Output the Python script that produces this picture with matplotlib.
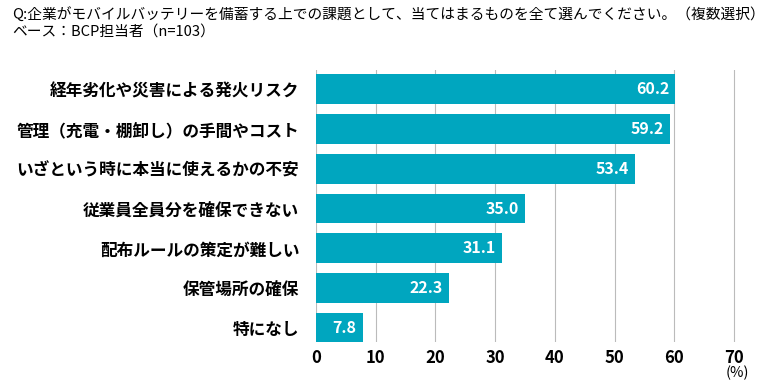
import matplotlib
matplotlib.use("Agg")
import matplotlib.pyplot as plt

plt.rcParams['font.family'] = ['Noto Sans CJK JP', 'DejaVu Sans']

# data
labels = ["経年劣化や災害による発火リスク",
          "管理（充電・棚卸し）の手間やコスト",
          "いざという時に本当に使えるかの不安",
          "従業員全員分を確保できない",
          "配布ルールの策定が難しい",
          "保管場所の確保",
          "特になし"]
values = [60.2, 59.2, 53.4, 35.0, 31.1, 22.3, 7.8]
xticks = [0, 10, 20, 30, 40, 50, 60, 70]

title = "Q:企業がモバイルバッテリーを備蓄する上での課題として、当てはまるものを全て選んでください。（複数選択）\nベース：BCP担当者（n=103）"

bar_color = "#00A6BF"

fig = plt.figure(figsize=(7.79, 3.92), dpi=100)
ax = fig.add_axes([0.4056, 0.128, 0.5405, 0.693])

pos = list(range(len(values)))
bars = ax.barh(pos, values, height=0.75, color=bar_color, zorder=3)

for b, v in zip(bars, values):
    ax.text(v - 1.0, b.get_y() + b.get_height() / 2, f"{v:.1f}",
            ha="right", va="center", color="white", fontsize=11.5,
            fontweight="bold", zorder=4)

ax.set_xlim(0, 70.5)
ax.set_ylim(6.35, -0.48)
ax.set_xticks(xticks)
ax.set_xticklabels([str(t) for t in xticks], fontsize=12, fontweight="bold")
ax.set_yticks(pos)
ax.set_yticklabels(labels, fontsize=12, fontweight="bold")
ax.tick_params(axis="both", length=0)
ax.tick_params(axis="y", pad=12)
ax.tick_params(axis="x", pad=5)
ax.grid(axis="x", color="#BBBBBB", linewidth=0.8, zorder=0)
for s in ax.spines.values():
    s.set_visible(False)

# unit label under the last tick
fig.text(737 / 779, 1 - 366 / 392, "(%)", ha="center", va="top", fontsize=10.5)

fig.text(12 / 779, 1 - 8 / 392, title, ha="left", va="top", fontsize=10.6,
         linespacing=1.25)

fig.savefig("out.png", dpi=100)
